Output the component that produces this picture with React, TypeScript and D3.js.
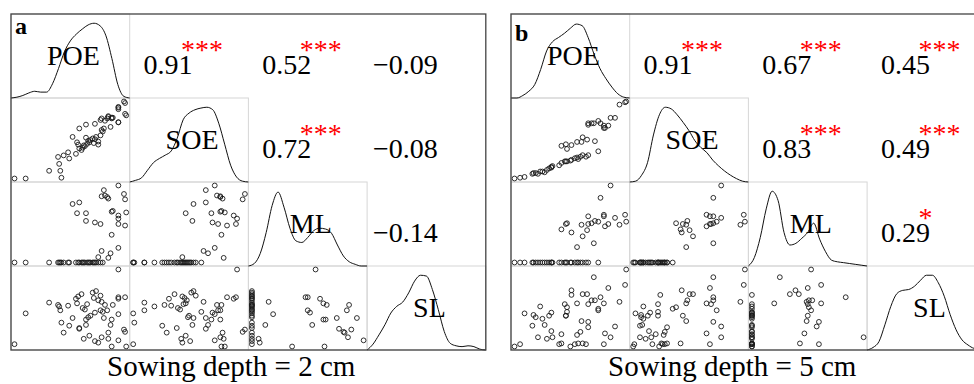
import * as d3 from "d3";

const VARS = ["POE", "SOE", "ML", "SL"];
const FONT = "Liberation Serif, Times New Roman, serif";

const CELL_W = 118.7;
const CELL_H = 84;
const PAD = 3.5;

// ---- panel a: sowing depth 2 cm ----
const poeA = [0, 10, 31, 39, 40, 41, 42, 44, 48, 49, 55, 57, 60, 61, 63, 65, 66, 68, 70, 71, 73, 75, 77, 79, 62, 67, 72, 58,
  84, 75, 86, 78, 93, 87, 99, 93, 77, 72, 64, 93, 93, 56, 64, 100, 87, 88, 52, 58, 99, 84, 83, 78, 81, 98, 80, 93];
const soeA = [0, 0, 10, 28, 19, 10, 1, 30, 34, 26, 32, 44, 37, 40, 42, 45, 49, 50, 52, 46, 54, 48, 56, 61, 43, 47, 51, 39,
  81, 44, 67, 63, 73, 79, 84, 92, 76, 71, 53, 93, 90, 47, 70, 82, 78, 79, 54, 65, 98, 80, 78, 78, 75, 100, 65, 73];
const mlA = [0, 0, 0, 0, 0, 0, 0, 0, 0, 0, 0, 0, 0, 0, 0, 0, 0, 0, 0, 0, 0, 0, 0, 0, 0, 0, 0, 0,
  6, 7, 12, 15, 19, 36, 48, 50, 50, 52, 54, 57, 61, 64, 64, 65, 66, 67, 76, 78, 82, 83, 85, 86, 87, 89, 94, 100];
const slA = [3, 43, 57, 54, 52, 47, 31, 18, 53, 27, 62, 65, 68, 50, 48, 55, 38, 40, 70, 63, 72, 60, 66, 45, 10, 14, 7, 24,
  10, 5, 28, 58, 42, 0, 64, 64, 47, 44, 28, 100, 62, 56, 35, 0, 35, 54, 37, 23, 19, 18, 47, 12, 54, 22, 37, 8];

const densPoeA = [0, 0.01, 0.03, 0.06, 0.08, 0.07, 0.07, 0.17, 0.35, 0.55, 0.68, 0.76, 0.82, 0.87, 0.89, 0.86, 0.74, 0.47, 0.16, 0.02, 0];
const densSoeA = [0, 0.02, 0.05, 0.14, 0.23, 0.28, 0.32, 0.37, 0.52, 0.74, 0.82, 0.86, 0.88, 0.89, 0.86, 0.7, 0.45, 0.2, 0.06, 0.01, 0];
const densMlA = [0, 0.03, 0.15, 0.4, 0.72, 0.88, 0.7, 0.45, 0.3, 0.28, 0.34, 0.42, 0.45, 0.44, 0.39, 0.25, 0.12, 0.05, 0.02, 0, 0];
const densSlA = [0, 0.07, 0.18, 0.3, 0.44, 0.52, 0.57, 0.68, 0.82, 0.89, 0.88, 0.72, 0.48, 0.22, 0.08, 0.05, 0.04, 0.05, 0.04, 0.01, 0];

const corrA = ["0.91", "0.52", "\u22120.09", "0.72", "\u22120.08", "\u22120.14"];
const starsA = ["***", "***", "", "***", "", ""];

// ---- panel b: sowing depth 5 cm ----
const poeB = [0, 5, 9, 16, 17, 19, 21, 23, 25, 27, 29, 31, 33, 34, 33, 40, 42, 45, 46, 47, 50, 51, 54, 56, 57, 59, 61, 64, 66, 75,
  56, 71, 61, 51, 65, 42, 81, 94, 60, 84, 66, 46, 69, 47, 100, 75, 72, 90, 66, 80, 99, 80, 77, 86];
const soeB = [0, 1, 2, 6, 7, 7, 6, 9, 9, 8, 11, 13, 15, 16, 14, 17, 20, 22, 22, 22, 23, 24, 26, 27, 25, 28, 30, 28, 30, 35,
  47, 71, 53, 43, 50, 42, 65, 95, 47, 68, 69, 44, 71, 38, 99, 74, 48, 78, 71, 68, 98, 65, 71, 78];
const mlB = [0, 0, 0, 0, 0, 0, 0, 0, 0, 0, 0, 0, 0, 0, 0, 0, 0, 0, 0, 0, 0, 0, 0, 0, 0, 0, 0, 0, 0, 0,
  20, 25, 34, 39, 42, 43, 47, 49, 49, 50, 50, 50, 51, 51, 53, 53, 54, 58, 60, 60, 62, 62, 84, 100];
const slB = [0, 3, 43, 27, 41, 38, 12, 52, 36, 28, 10, 40, 44, 12, 20, 3, 16, 55, 40, 45, 0, 67, 3, 15, 4, 19, 4, 3, 25, 49,
  56, 90, 68, 73, 68, 4, 17, 58, 33, 76, 55, 40, 60, 51, 100, 47, 60, 26, 32, 3, 80, 56, 64, 12];

const densPoeB = [0, 0, 0.03, 0.08, 0.16, 0.34, 0.56, 0.67, 0.72, 0.77, 0.83, 0.88, 0.86, 0.72, 0.52, 0.35, 0.23, 0.13, 0.05, 0.01, 0];
const densSoeB = [0, 0.01, 0.08, 0.23, 0.56, 0.8, 0.89, 0.87, 0.8, 0.71, 0.61, 0.49, 0.41, 0.35, 0.26, 0.19, 0.13, 0.08, 0.04, 0.01, 0];
const densMlB = [0, 0.1, 0.34, 0.68, 0.89, 0.78, 0.4, 0.25, 0.27, 0.33, 0.4, 0.51, 0.32, 0.17, 0.07, 0.05, 0.04, 0.03, 0.02, 0.01, 0];
const densSlB = [0, 0.03, 0.1, 0.3, 0.52, 0.67, 0.71, 0.72, 0.76, 0.83, 0.89, 0.89, 0.8, 0.64, 0.42, 0.24, 0.12, 0.06, 0.02, 0.01, 0];

const corrB = ["0.91", "0.67", "0.45", "0.83", "0.49", "0.29"];
const starsB = ["***", "***", "***", "***", "***", "*"];

type PanelProps = {
  x0: number;
  y0: number;
  tag: string;
  tagY: number;
  title: string;
  titleX: number;
  cols: number[][];
  dens: number[][];
  corr: string[];
  stars: string[];
};

const txt = { fontFamily: FONT };

const Panel = ({ x0, y0, tag, tagY, title, titleX, cols, dens, corr, stars }: PanelProps) => {
  const n = VARS.length;
  // one scale per variable, shared by rows and columns
  const xs = cols.map((v) =>
    d3.scaleLinear().domain(d3.extent(v) as [number, number]).range([PAD, CELL_W - PAD])
  );
  const ys = cols.map((v) =>
    d3.scaleLinear().domain(d3.extent(v) as [number, number]).range([CELL_H - PAD, PAD])
  );
  const du = d3.scaleLinear().domain([0, 20]).range([0, CELL_W]);
  const dv = d3.scaleLinear().domain([0, 1]).range([CELL_H, 0]);
  const densLine = d3
    .line<number>()
    .x((_, i) => du(i))
    .y((d) => dv(d))
    .curve(d3.curveMonotoneX);

  // upper triangle pairs in reading order
  const pairs: [number, number][] = [];
  for (let i = 0; i < n; i++) for (let j = i + 1; j < n; j++) pairs.push([i, j]);

  return (
    <g>
      {/* grey boxes for the lower triangle and the diagonal */}
      {d3.range(n).map((i) =>
        d3.range(i + 1).map((j) => (
          <rect
            key={`b${i}${j}`}
            x={x0 + j * CELL_W}
            y={y0 + i * CELL_H}
            width={CELL_W}
            height={CELL_H}
            fill="none"
            stroke="#d6d6d6"
            strokeWidth={1}
          />
        ))
      )}
      {/* scatter plots */}
      {d3.range(n).map((i) =>
        d3.range(i).map((j) => (
          <g key={`s${i}${j}`} transform={`translate(${x0 + j * CELL_W},${y0 + i * CELL_H})`}>
            {cols[j].map((v, k) => (
              <circle
                key={k}
                cx={xs[j](v)}
                cy={ys[i](cols[i][k])}
                r={2.4}
                fill="none"
                stroke="#1a1a1a"
                strokeWidth={0.9}
              />
            ))}
          </g>
        ))
      )}
      {/* densities + variable names */}
      {d3.range(n).map((k) => (
        <g key={`d${k}`} transform={`translate(${x0 + k * CELL_W},${y0 + k * CELL_H})`}>
          <path d={densLine(dens[k]) || ""} fill="none" stroke="#111" strokeWidth={1} />
          <text x={CELL_W / 2 + 3} y={CELL_H / 2 + 9} textAnchor="middle" style={txt} fontSize={28} fill="#000">
            {VARS[k]}
          </text>
        </g>
      ))}
      {/* correlations */}
      {pairs.map(([i, j], p) => {
        const cx = x0 + j * CELL_W + CELL_W / 2 - 21;
        const by = y0 + i * CELL_H + CELL_H / 2 + 18;
        return (
          <g key={`c${p}`}>
            <text x={cx} y={by} textAnchor="middle" style={txt} fontSize={28} fill="#000">
              {corr[p]}
            </text>
            {stars[p] && (
              <text x={cx + 13} y={by - 15} style={txt} fontSize={28} fill="#ff0000">
                {stars[p]}
              </text>
            )}
          </g>
        );
      })}
      <rect
        x={x0}
        y={y0}
        width={CELL_W * n}
        height={CELL_H * n}
        fill="none"
        stroke="#444"
        strokeWidth={1.3}
      />
      <text x={x0 + 4} y={tagY} style={txt} fontSize={24} fontWeight="bold" fill="#000">
        {tag}
      </text>
      <text x={titleX} y={376} style={txt} fontSize={29} fill="#000">
        {title}
      </text>
    </g>
  );
};

export default function App() {
  return (
    <svg
      width={974}
      height={384}
      style={{ position: "absolute", left: 0, top: 0, background: "#fff" }}
    >
      <rect width={974} height={384} fill="#fff" />
      <Panel
        x0={11}
        y0={14}
        tag="a"
        tagY={34}
        title="Sowing depth = 2 cm"
        titleX={107}
        cols={[poeA, soeA, mlA, slA]}
        dens={[densPoeA, densSoeA, densMlA, densSlA]}
        corr={corrA}
        stars={starsA}
      />
      <Panel
        x0={511}
        y0={14}
        tag="b"
        tagY={41}
        title="Sowing depth = 5 cm"
        titleX={608}
        cols={[poeB, soeB, mlB, slB]}
        dens={[densPoeB, densSoeB, densMlB, densSlB]}
        corr={corrB}
        stars={starsB}
      />
    </svg>
  );
}
